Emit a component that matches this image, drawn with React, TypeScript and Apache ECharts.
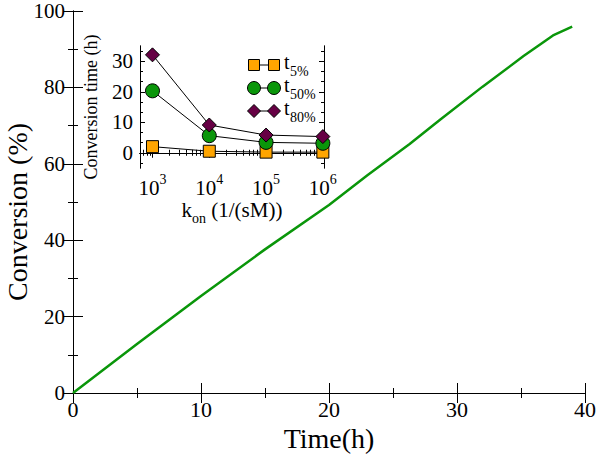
import React, { useEffect, useRef } from "react";
import * as echarts from "echarts";

const SERIF = "Liberation Serif, Times New Roman, serif";

// Main curve: conversion (%) vs time (h)
const time = [0, 5, 10, 15, 20, 23, 26.3, 28.7, 32, 35.2, 37.5, 39];
const conversion = [0, 12.8, 25.4, 37.6, 49.2, 57.0, 65.2, 71.6, 80.2, 88.2, 93.6, 95.9];

// Inset: conversion time (h) vs k_on (1/(sM))
const kon = [1e3, 1e4, 1e5, 1e6];
const t5 = [2.0, 0.5, 0.2, 0.2];
const t50 = [20.3, 5.6, 3.4, 3.1];
const t80 = [32.1, 9.1, 5.8, 5.3];

const insetYMajor = [0, 10, 20, 30];
const insetYMinor = [-10 / 3, 10 / 3, 20 / 3, 40 / 3, 50 / 3, 70 / 3, 80 / 3, 100 / 3];
const insetXMajor = [3, 4, 5, 6];

const GREEN = "#0a960a";
const ORANGE = "#ffa500";
const PURPLE = "#660044";

export default function App() {
  const ref = useRef<HTMLDivElement>(null);
  useEffect(() => {
    if (!ref.current) return;
    const chart = echarts.init(ref.current, null, { renderer: "svg" });

    const insetXMinor: number[] = [];
    for (let d = 2; d <= 6; d++) {
      for (let k = 2; k <= 9; k++) {
        const v = d + Math.log10(k);
        if (v > 2.78 && v < 6.02) insetXMinor.push(v);
      }
    }

    const line = { lineStyle: { color: "#000", width: 1 } };
    const hidden = { show: false };

    const mainX = (pos: string, labels: boolean) => ({
      type: "value",
      gridIndex: 0,
      position: pos,
      min: 0,
      max: 40,
      interval: 10,
      axisLine: { show: true, ...line },
      axisTick: { show: true, inside: true, length: 10, lineStyle: { color: "#000" } },
      minorTick: { show: true, splitNumber: 2, length: 5, lineStyle: { color: "#000" } },
      axisLabel: labels
        ? { show: true, fontFamily: SERIF, fontSize: 22, color: "#000", margin: 5 }
        : { show: false },
      splitLine: hidden,
      name: labels ? "Time(h)" : "",
      nameLocation: "middle",
      nameGap: 30,
      nameTextStyle: { fontFamily: SERIF, fontSize: 28, color: "#000" },
    });
    const mainY = (pos: string, labels: boolean) => ({
      type: "value",
      gridIndex: 0,
      position: pos,
      min: 0,
      max: 100,
      interval: 20,
      axisLine: { show: true, ...line },
      axisTick: { show: true, inside: true, length: 10, lineStyle: { color: "#000" } },
      minorTick: { show: true, splitNumber: 2, length: 5, lineStyle: { color: "#000" } },
      axisLabel: labels
        ? { show: true, fontFamily: SERIF, fontSize: 21, color: "#000", margin: 8 }
        : { show: false },
      splitLine: hidden,
    });

    const insetX = (pos: string, values: number[], len: number, labels: boolean) => ({
      type: "value",
      gridIndex: 1,
      position: pos,
      min: 2.78,
      max: 6.02,
      axisLine: { show: true, ...line },
      axisTick: { show: true, inside: true, length: len, customValues: values, lineStyle: { color: "#000" } },
      axisLabel: labels
        ? {
            show: true,
            customValues: values,
            margin: 4,
            formatter: (v: number) => `{b|10}{sup|${Math.round(v)}}`,
            rich: {
              b: { fontFamily: SERIF, fontSize: 21, color: "#000", lineHeight: 26, verticalAlign: "bottom" },
              sup: { fontFamily: SERIF, fontSize: 14, color: "#000", lineHeight: 12, verticalAlign: "top" },
            },
          }
        : { show: false },
      splitLine: hidden,
      name: labels ? "{k|k}{s|on}{k| (1/(sM))}" : "",
      nameLocation: "middle",
      nameGap: 31,
      nameTextStyle: {
        rich: {
          k: { fontFamily: SERIF, fontSize: 21, color: "#000", lineHeight: 26, verticalAlign: "top" },
          s: { fontFamily: SERIF, fontSize: 14, color: "#000", lineHeight: 12, verticalAlign: "bottom" },
        },
      },
    });
    const insetY = (pos: string, values: number[], len: number, labels: boolean) => ({
      type: "value",
      gridIndex: 1,
      position: pos,
      min: -5,
      max: 35,
      axisLine: { show: true, ...line },
      axisTick: { show: true, inside: true, length: len, customValues: values, lineStyle: { color: "#000" } },
      axisLabel: labels
        ? { show: true, customValues: values, fontFamily: SERIF, fontSize: 21, color: "#000", margin: 7 }
        : { show: false },
      splitLine: hidden,
      name: labels ? "Conversion time (h)" : "",
      nameLocation: "middle",
      nameGap: 40,
      nameTextStyle: { fontFamily: SERIF, fontSize: 18, color: "#000" },
    });

    const insetSeries = (name: string, vals: number[], symbol: string, size: number, color: string) => ({
      type: "line",
      name,
      xAxisIndex: 2,
      yAxisIndex: 2,
      data: kon.map((k, i) => [Math.log10(k), vals[i]]),
      symbol,
      symbolSize: size,
      showSymbol: true,
      lineStyle: { color: "#000", width: 1 },
      itemStyle: { color, borderColor: "#000", borderWidth: 1 },
      z: 5,
    });

    // legend (graphic) inside inset
    const legendRows = [
      { label: "5%", kind: "rect", color: ORANGE, y: 65 },
      { label: "50%", kind: "circle", color: GREEN, y: 88 },
      { label: "80%", kind: "diamond", color: PURPLE, y: 111 },
    ];
    const x1 = 254;
    const x2 = 274;
    const sym = (kind: string, cx: number, cy: number, color: string) => {
      const style = { fill: color, stroke: "#000", lineWidth: 1 };
      if (kind === "rect") return { type: "rect", shape: { x: cx - 5.5, y: cy - 5.5, width: 11, height: 11 }, style };
      if (kind === "circle") return { type: "circle", shape: { cx, cy, r: 6.5 }, style };
      return {
        type: "polygon",
        shape: { points: [[cx, cy - 6.5], [cx + 6.5, cy], [cx, cy + 6.5], [cx - 6.5, cy]] },
        style,
      };
    };
    const graphic: any[] = [
      {
        type: "text",
        x: 17,
        y: 212,
        rotation: Math.PI / 2,
        style: {
          text: "Conversion (%)",
          font: `28px ${SERIF}`,
          fill: "#000",
          align: "center",
          verticalAlign: "middle",
        },
      },
    ];
    legendRows.forEach((r) => {
      graphic.push({ type: "line", shape: { x1, y1: r.y, x2, y2: r.y }, style: { stroke: "#000", lineWidth: 1 }, z: 10 });
      graphic.push({ ...sym(r.kind, x1, r.y, r.color), z: 11 });
      graphic.push({ ...sym(r.kind, x2, r.y, r.color), z: 11 });
      graphic.push({
        type: "text",
        x: 284,
        y: r.y - 13,
        z: 11,
        style: { text: "t", font: `20px ${SERIF}`, fill: "#000" },
      });
      graphic.push({
        type: "text",
        x: 290,
        y: r.y - 1,
        z: 11,
        style: { text: r.label, font: `14px ${SERIF}`, fill: "#000" },
      });
    });

    const option: any = {
      animation: false,
      backgroundColor: "#fff",
      textStyle: { fontFamily: SERIF, color: "#000" },
      grid: [
        { left: 73, top: 11, width: 512, height: 382, show: false, outerBoundsMode: "none", containLabel: false },
        {
          left: 140,
          top: 46,
          width: 184,
          height: 122,
          show: true,
          backgroundColor: "#fff",
          borderWidth: 0,
          outerBoundsMode: "none",
          containLabel: false,
        },
      ],
      xAxis: [
        mainX("bottom", true),
        mainX("top", false),
        insetX("bottom", insetXMajor, 5, true),
        insetX("bottom", insetXMinor, 3, false),
        insetX("top", insetXMajor, 5, false),
        insetX("top", insetXMinor, 3, false),
      ],
      yAxis: [
        mainY("left", true),
        mainY("right", false),
        insetY("left", insetYMajor, 5, true),
        insetY("left", insetYMinor, 3, false),
        insetY("right", insetYMajor, 5, false),
        insetY("right", insetYMinor, 3, false),
      ],
      series: [
        {
          type: "line",
          name: "Conversion",
          xAxisIndex: 0,
          yAxisIndex: 0,
          data: time.map((t, i) => [t, conversion[i]]),
          showSymbol: false,
          symbol: "none",
          lineStyle: { color: GREEN, width: 2.5 },
        },
        insetSeries("t5%", t5, "rect", 12, ORANGE),
        insetSeries("t50%", t50, "circle", 14, GREEN),
        insetSeries("t80%", t80, "diamond", 14, PURPLE),
      ],
      graphic,
    };
    chart.setOption(option);
    return () => chart.dispose();
  }, []);

  return (
    <div
      ref={ref}
      style={{ position: "fixed", left: 0, top: 0, width: 600, height: 456, background: "#fff" }}
    />
  );
}
